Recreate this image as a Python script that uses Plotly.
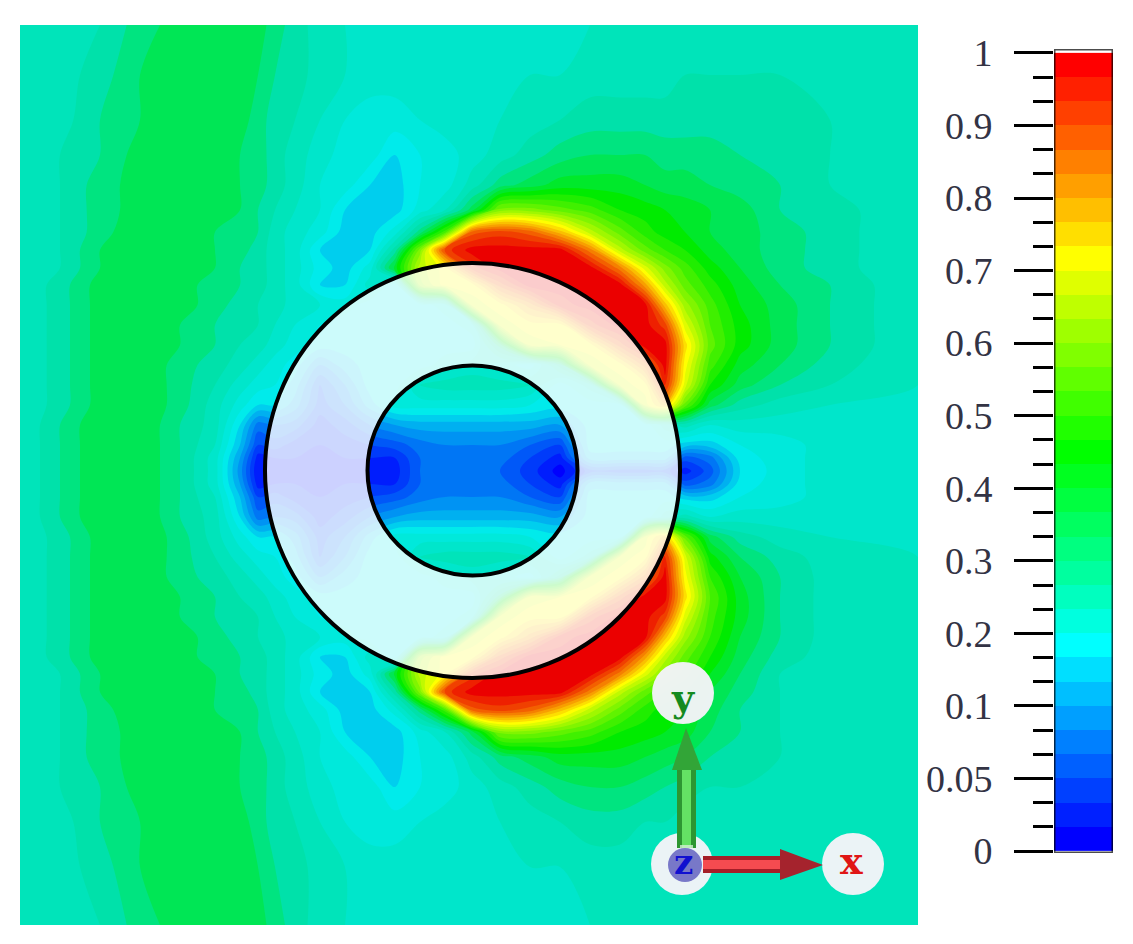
import plotly.graph_objects as go
import math

# Field values are in half colour bands (0 = blue ... 64 = red)
grid_x = [20,60,100,140,180,215,240,258,275,295,320,345,370,395,420,445,472,500,530,560,590,620,645,665,685,710,740,780,830,918]
grid_y = [25,75,120,155,185,210,232,250,268,285,305,325,345,365,385,405,425,445,458,471,484,497,517,537,557,577,597,617,637,657,674,692,710,732,757,787,822,867,925]
field = [
 [21,22,23,26,28,29,29,28,26,24,22,21,21,21,21,21,21,21,21,21,21,22,22,22,22,22,22,22,22,21],
 [21,22,24,27,29,29,28,27,25,24,22,21,20,20,20,20,20,21,21,21,22,22,22,22,23,23,23,23,23,21],
 [21,22,25,27,29,29,28,26,24,23,21,19,18,18,19,20,20,21,22,23,24,24,24,24,24,24,24,24,23,21],
 [21,23,25,28,29,29,27,26,24,22,20,18,18,15,17,18,20,22,24,26,27,27,27,26,26,26,25,25,23,21],
 [21,23,26,28,29,28,27,26,24,22,19,18,15,14,17,18,22,26,28,30,30,30,29,28,28,27,26,25,23,21],
 [21,23,26,28,29,28,27,25,23,21,19,15,14,14,18,21,28,40,40,38,36,33,32,31,30,29,28,25,24,21],
 [21,23,26,29,29,27,26,25,22,20,18,14,14,18,26,36,58,60,58,52,44,38,34,32,31,29,28,26,24,21],
 [21,23,27,29,28,27,26,24,22,20,15,14,15,24,40,60,64,64,64,64,56,44,38,35,33,30,28,26,24,21],
 [21,23,27,29,28,27,25,24,22,20,16,14,18,30,44,48,60,64,64,64,64,56,46,40,36,32,29,26,24,21],
 [21,24,28,29,28,26,25,24,22,20,15,15,20,16,42,48,48,58,64,64,64,64,54,44,38,34,30,27,25,21],
 [21,24,28,29,28,26,24,23,22,20,19,18,16,16,16,18,46,48,54,62,64,64,64,52,42,36,31,28,25,21],
 [21,24,28,29,27,25,24,23,21,19,17,16,16,16,16,16,18,46,48,48,60,64,64,60,46,37,32,28,25,21],
 [21,24,28,29,27,25,23,22,20,18,16,16,16,16,16,16,16,26,46,47,48,58,64,64,50,38,32,28,25,21],
 [21,24,28,29,26,24,22,20,18,16,11,14,16,16,16,18,20,18,16,24,46,48,56,64,48,36,30,27,24,21],
 [21,24,28,29,26,23,20,18,17,14, 7,11,16,16,21,22,22,22,21,16,20,46,48,62,46,33,28,25,23,21],
 [21,24,28,29,26,22,18,15,15,12, 6, 9,14,18,18,18,18,18,17,16,16,16,46,52,38,28,24,22,21,21],
 [21,25,29,29,25,22,15, 8, 9, 8, 4, 6, 9,11,12,12,12,12,12,11,16,16,16,20,22,19,20,20,21,21],
 [21,25,29,29,25,21,13, 5, 6, 4, 3, 4, 5, 6, 8, 9, 9, 9, 7, 5,16,16,16,16,14,14,17,18,20,21],
 [21,25,29,29,25,20,11, 2, 3, 3, 2, 3, 3, 3, 7, 9, 9, 8, 5, 2,14,14,14,14, 6, 8,16,18,20,21],
 [21,25,29,29,25,20,10, 1, 2, 2, 2, 2, 1, 2, 7, 9, 9, 7, 4, 0, 6, 6, 6, 6, 2, 6,15,18,20,21],
 [21,25,29,29,25,20,11, 2, 3, 3, 2, 3, 3, 3, 7, 9, 9, 8, 5, 2,14,14,14,14, 6, 8,16,18,20,21],
 [21,25,29,29,25,21,13, 5, 6, 4, 3, 4, 5, 6, 8, 9, 9, 9, 7, 5,16,16,16,16,14,14,17,18,20,21],
 [21,25,29,29,25,22,15, 8, 9, 8, 4, 6, 9,11,12,12,12,12,12,11,16,16,16,20,22,19,20,20,21,21],
 [21,24,28,29,26,22,18,15,15,12, 6, 9,14,18,18,18,18,18,17,16,16,16,46,52,38,28,24,22,21,21],
 [21,24,28,29,26,23,20,18,17,14, 7,11,16,16,21,22,22,22,21,16,20,46,48,62,46,32,27,24,22,21],
 [21,24,28,29,26,24,22,20,18,16,11,14,16,16,16,18,20,18,16,24,46,48,56,64,48,35,29,25,22,21],
 [21,24,28,29,27,25,23,22,20,18,16,16,16,16,16,16,16,26,46,47,48,58,64,64,50,37,30,25,22,21],
 [21,24,28,29,27,25,24,23,21,19,17,16,16,16,16,16,18,46,48,48,60,64,64,60,46,36,30,25,22,21],
 [21,24,28,29,28,26,24,23,22,20,19,18,16,16,16,18,46,48,54,62,64,64,64,52,42,35,29,25,22,21],
 [21,24,28,29,28,26,25,24,22,20,15,15,20,16,42,48,48,58,64,64,64,64,54,44,38,33,28,24,22,21],
 [21,23,27,29,28,27,25,24,22,20,16,14,18,30,44,48,60,64,64,64,64,56,46,40,36,31,27,23,22,21],
 [21,23,27,29,28,27,26,24,22,20,15,14,15,24,40,60,64,64,64,64,56,44,38,35,33,29,26,23,22,21],
 [21,23,26,29,29,27,26,25,22,20,18,14,14,18,26,36,58,60,58,52,44,38,34,32,31,28,25,23,22,21],
 [21,23,26,28,29,28,27,25,23,21,19,15,14,14,18,21,28,40,40,38,36,33,32,31,30,27,25,23,22,21],
 [21,23,26,28,29,28,27,26,24,22,19,18,15,14,17,18,22,26,28,30,30,30,29,28,27,25,24,23,22,21],
 [21,23,25,28,29,29,27,26,24,22,20,18,18,15,17,18,20,22,24,26,27,27,26,25,24,23,23,22,22,21],
 [21,22,25,27,29,29,28,26,24,23,21,19,18,18,19,20,20,21,22,23,24,24,23,23,22,22,22,22,22,21],
 [21,22,24,27,29,29,28,27,25,24,22,21,20,20,20,20,20,21,21,21,22,22,22,22,22,22,22,22,22,21],
 [21,22,23,26,28,29,29,28,26,24,22,21,21,21,21,21,21,21,21,21,21,22,22,22,22,22,22,22,22,21],
]

bar_anchors = [[0,"rgb(0,0,255)"],[0.25,"rgb(0,255,255)"],[0.5,"rgb(0,255,0)"],[0.75,"rgb(255,255,0)"],[1,"rgb(255,0,0)"]]
field_anchors = [[0,"rgb(0,0,255)"],[0.25,"rgb(0,235,235)"],[0.375,"rgb(0,225,170)"],[0.5,"rgb(0,235,0)"],[0.75,"rgb(255,255,0)"],[1,"rgb(235,0,0)"]]
bar_bands = list(range(33))
bar_edges = [i + 0.5 for i in bar_bands]
major_positions = [0,3,6,9,12,15,18,21,24,27,30,33]
major_labels = ["0","0.05","0.1","0.2","0.3","0.4","0.5","0.6","0.7","0.8","0.9","1"]
minor_positions = [i for i in range(34) if i % 3]

ring_center = (472.5, 470.5)
outer_radius = 207.5
inner_radius = 105

W, H = 1133, 944
def loop(r, n=240):
    pts = [(ring_center[0]+r*math.cos(2*math.pi*k/n), ring_center[1]+r*math.sin(2*math.pi*k/n)) for k in range(n)]
    return "M" + " L".join(f"{a:.2f},{b:.2f}" for a, b in pts) + " Z"

fig = go.Figure()
fig.add_trace(go.Contour(
    x=grid_x, y=grid_y, z=field, colorscale=field_anchors, zmin=0, zmax=64,
    autocontour=False, contours=dict(start=1, end=63, size=2, coloring="fill", showlines=False),
    line=dict(width=0), showscale=False, hoverinfo="skip", xaxis="x", yaxis="y"))
fig.add_trace(go.Heatmap(
    x=[0,1], y=bar_edges, z=[[b] for b in bar_bands], colorscale=bar_anchors, zmin=0, zmax=32,
    showscale=False, hoverinfo="skip", xaxis="x2", yaxis="y2"))

def circle(cx, cy, r, **kw):
    return dict(type="circle", xref="x", yref="y", x0=cx-r, x1=cx+r, y0=cy-r, y1=cy+r, layer="above", **kw)
def rect(x0, y0, x1, y1, color):
    return dict(type="rect", xref="x", yref="y", x0=x0, x1=x1, y0=y0, y1=y1, line_width=0, fillcolor=color, layer="above")
def poly(pts, color):
    p = "M" + " L".join(f"{a},{b}" for a, b in pts) + " Z"
    return dict(type="path", xref="x", yref="y", path=p, line_width=0, fillcolor=color, layer="above")

disc = "rgba(243,243,248,0.97)"
shapes = [
    dict(type="path", xref="x", yref="y", path=loop(outer_radius)+" "+loop(inner_radius), fillrule="evenodd",
         fillcolor="rgba(255,255,255,0.8)", line_width=0, layer="above"),
    circle(*ring_center, outer_radius, line=dict(color="black", width=4)),
    circle(*ring_center, inner_radius, line=dict(color="black", width=4)),
    circle(683, 693, 31, fillcolor=disc, line_width=0),
    circle(682, 864, 31, fillcolor=disc, line_width=0),
    circle(853, 864, 31, fillcolor=disc, line_width=0),
    rect(677, 770, 696, 848, "rgb(45,150,50)"),
    rect(682, 770, 691, 848, "rgb(100,225,100)"),
    rect(680, 845, 693, 848, "rgba(210,240,210,0.8)"),
    poly([(686,728),(702,770),(672,770)], "rgb(50,165,55)"),
    rect(703, 856, 780, 873, "rgb(165,30,40)"),
    rect(703, 860, 780, 869, "rgb(245,75,80)"),
    poly([(780,849),(823,865),(780,880)], "rgb(165,35,45)"),
    circle(685, 865, 17, fillcolor="rgb(120,120,200)", line_width=0),
    dict(type="rect", xref="x2", yref="y2", x0=0, x1=1, y0=-0.08, y1=33.16,
         line=dict(color="rgba(0,0,0,0.7)", width=3), layer="above"),
]
fig.update_layout(
    width=W, height=H, margin=dict(l=0, r=0, t=0, b=0, autoexpand=False), paper_bgcolor="white", plot_bgcolor="white",
    showlegend=False, shapes=shapes,
    xaxis=dict(domain=[20/W, 918/W], range=[20, 918], visible=False),
    yaxis=dict(domain=[1-925/H, 1-25/H], range=[925, 25], visible=False),
    xaxis2=dict(domain=[1054/W, 1113/W], range=[0, 1], visible=False, anchor="y2"),
    yaxis2=dict(domain=[1-853/H, 1-49/H], range=[-0.08, 33.16], anchor="x2", side="left",
                tickmode="array", tickvals=major_positions, ticktext=major_labels,
                ticks="outside", ticklen=39, tickwidth=3, tickcolor="black", showgrid=False, zeroline=False,
                showline=False, ticklabelstandoff=14,
                tickfont=dict(family="Liberation Serif", size=38, color="#333344"),
                minor=dict(tickmode="array", tickvals=minor_positions, ticks="outside", ticklen=20, tickwidth=3, tickcolor="black", showgrid=False)),
    annotations=[
        dict(x=683, y=697, xref="x", yref="y", text="<b>y</b>", showarrow=False, font=dict(family="DejaVu Serif", size=38, color="#158a20")),
        dict(x=683, y=862, xref="x", yref="y", text="<b>z</b>", showarrow=False, font=dict(family="DejaVu Serif", size=34, color="#1010d0")),
        dict(x=851, y=860, xref="x", yref="y", text="<b>x</b>", showarrow=False, font=dict(family="DejaVu Serif", size=38, color="#e01515")),
    ],
)
fig.write_html("out.html", config={"displayModeBar": False}, post_script="document.body.style.margin='0';")
